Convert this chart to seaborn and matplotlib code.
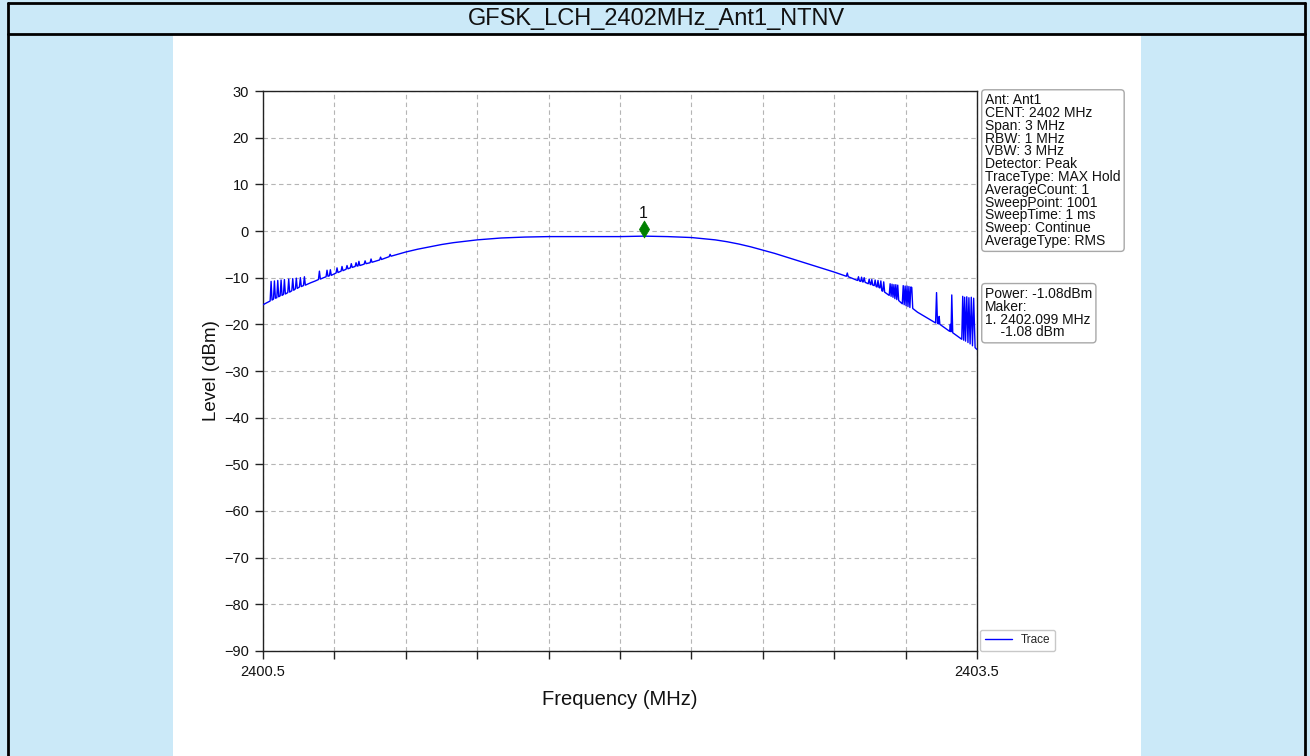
import numpy as np
import pandas as pd
import matplotlib
matplotlib.use("Agg")
import matplotlib.pyplot as plt
from matplotlib.patches import Rectangle
from matplotlib.lines import Line2D
from matplotlib.transforms import offset_copy
import seaborn as sns

# ---------------- data ----------------
title_text = "GFSK_LCH_2402MHz_Ant1_NTNV"

# left band-edge, dense spurs
left_freq = [2400.500, 2400.530, 2400.534, 2400.538, 2400.544, 2400.548, 2400.552, 2400.558,
             2400.562, 2400.566, 2400.572, 2400.576, 2400.580, 2400.586, 2400.590, 2400.594,
             2400.604, 2400.608, 2400.612, 2400.621, 2400.625, 2400.629, 2400.636, 2400.640,
             2400.644, 2400.653, 2400.657, 2400.661, 2400.670, 2400.674, 2400.678]
left_level = [-15.8, -15.0, -10.8, -14.8, -14.6, -10.7, -14.4, -14.3,
              -10.6, -14.1, -13.9, -10.5, -13.8, -13.6, -10.4, -13.5,
              -13.2, -10.3, -13.1, -12.8, -10.2, -12.7, -12.4, -10.1,
              -12.3, -12.0, -10.0, -11.9, -11.7, -9.8, -11.6]

# left slope, sparse spurs
slope_freq = [2400.700, 2400.720, 2400.733, 2400.737, 2400.741, 2400.765, 2400.769, 2400.773,
              2400.779, 2400.783, 2400.787, 2400.807, 2400.811, 2400.815, 2400.828, 2400.832,
              2400.836, 2400.849, 2400.853, 2400.857, 2400.867, 2400.871, 2400.875, 2400.887,
              2400.891, 2400.895, 2400.899, 2400.903, 2400.907, 2400.925, 2400.929, 2400.933,
              2400.950, 2400.954, 2400.958, 2400.990, 2400.994, 2400.998, 2401.030, 2401.034,
              2401.038, 2401.100, 2401.150]
slope_level = [-11.1, -10.7, -10.4, -8.6, -10.3, -9.8, -8.4, -9.7,
               -9.6, -8.3, -9.5, -9.0, -7.9, -8.9, -8.6, -7.6,
               -8.5, -8.2, -7.4, -8.1, -7.9, -7.0, -7.8, -7.6,
               -6.8, -7.5, -7.5, -6.5, -7.4, -7.1, -6.4, -7.0,
               -6.8, -6.0, -6.7, -6.2, -5.6, -6.1, -5.5, -5.0,
               -5.4, -4.5, -3.9]

# in-band top
top_freq = [2401.200, 2401.250, 2401.300, 2401.350, 2401.400, 2401.450, 2401.500, 2401.600,
            2401.700, 2401.800, 2401.900, 2402.000, 2402.100, 2402.200, 2402.300, 2402.400,
            2402.450, 2402.500, 2402.550, 2402.600, 2402.650, 2402.700, 2402.750, 2402.800,
            2402.850, 2402.900]
top_level = [-3.4, -2.9, -2.5, -2.2, -1.9, -1.7, -1.5, -1.3,
             -1.2, -1.2, -1.2, -1.2, -1.1, -1.2, -1.4, -1.9,
             -2.3, -2.8, -3.4, -4.1, -4.8, -5.6, -6.4, -7.2,
             -8.0, -8.8]

# right band-edge with spurs
right_freq = [2402.940, 2402.951, 2402.955, 2402.959, 2402.998, 2403.002, 2403.006, 2403.011,
              2403.015, 2403.019, 2403.022, 2403.026, 2403.030, 2403.043, 2403.047, 2403.051,
              2403.054, 2403.058, 2403.062, 2403.068, 2403.072, 2403.076, 2403.080, 2403.084,
              2403.088, 2403.092, 2403.096, 2403.100, 2403.104, 2403.108, 2403.112, 2403.131,
              2403.135, 2403.139, 2403.143, 2403.147, 2403.151, 2403.155, 2403.159, 2403.163,
              2403.167, 2403.171, 2403.186, 2403.190, 2403.194, 2403.198, 2403.202, 2403.206,
              2403.210, 2403.214, 2403.218, 2403.222, 2403.226, 2403.230, 2403.250, 2403.300,
              2403.326, 2403.330, 2403.334, 2403.338, 2403.341, 2403.344, 2403.385, 2403.388,
              2403.391, 2403.394, 2403.398, 2403.430, 2403.436, 2403.440, 2403.444, 2403.448,
              2403.452, 2403.457, 2403.462, 2403.466, 2403.471, 2403.476, 2403.481, 2403.486,
              2403.492, 2403.500]
right_level = [-9.5, -9.7, -9.0, -9.8, -10.6, -9.8, -10.7, -10.8,
               -9.9, -10.9, -10.9, -10.0, -11.0, -11.3, -10.3, -11.4,
               -11.5, -10.4, -11.6, -11.7, -10.5, -11.9, -12.0, -10.6,
               -12.1, -12.2, -10.7, -12.8, -12.9, -10.9, -13.1, -13.8,
               -11.3, -14.0, -11.4, -14.2, -11.5, -14.5, -11.5, -14.7,
               -11.6, -14.9, -15.6, -11.7, -15.8, -11.8, -16.0, -11.8,
               -16.2, -11.9, -16.4, -12.0, -12.1, -16.6, -17.4, -18.9,
               -19.7, -13.2, -19.8, -19.9, -18.3, -20.0, -21.5, -20.0,
               -21.6, -13.7, -21.8, -23.0, -23.2, -14.0, -23.4, -14.2,
               -23.6, -14.1, -23.9, -14.3, -24.2, -14.2, -24.6, -14.4,
               -25.0, -25.4]

marker_freq = [2402.099]
marker_level = [-1.08]
marker_labels = ["1"]

x_tick_values = [2400.5, 2400.8, 2401.1, 2401.4, 2401.7, 2402.0, 2402.3, 2402.6, 2402.9, 2403.2, 2403.5]
x_tick_labels = ["2400.5", "", "", "", "", "", "", "", "", "", "2403.5"]
y_tick_values = [30, 20, 10, 0, -10, -20, -30, -40, -50, -60, -70, -80, -90]

settings_lines = ["Ant: Ant1", "CENT: 2402 MHz", "Span: 3 MHz", "RBW: 1 MHz", "VBW: 3 MHz",
                  "Detector: Peak", "TraceType: MAX Hold", "AverageCount: 1", "SweepPoint: 1001",
                  "SweepTime: 1 ms", "Sweep: Continue", "AverageType: RMS"]
result_lines = ["Power: -1.08dBm", "Maker:", "1. 2402.099 MHz", "    -1.08 dBm"]

# ---------------- figure ----------------
sns.set_theme(style="ticks")
plt.rcParams["font.family"] = ["Liberation Sans", "DejaVu Sans"]

W, H = 1310, 756
fig = plt.figure(figsize=(W / 100, H / 100), dpi=100)
fig.patch.set_facecolor("#cbe9f8")

def px_rect(x0, y0, x1, y1, **kw):
    r = Rectangle((x0 / W, 1 - y1 / H), (x1 - x0) / W, (y1 - y0) / H,
                  transform=fig.transFigure, **kw)
    fig.add_artist(r)

# white central panel
px_rect(173, 35, 1141, 760, facecolor="white", edgecolor="none", zorder=0)
# frame lines
for (x0, y0, x1, y1) in [(8, 3, 1305, 3), (8, 34, 1305, 34), (8, 3, 8, 760), (1305, 3, 1305, 760)]:
    fig.add_artist(Line2D([x0 / W, x1 / W], [1 - y0 / H, 1 - y1 / H], transform=fig.transFigure,
                          color="black", lw=2, zorder=1))
fig.text(656 / W, 1 - 19 / H, title_text, ha="center", va="center", fontsize=17, color="#111111")

ax = fig.add_axes([263 / W, 1 - 651 / H, (977 - 263) / W, (651 - 91) / H])
ax.set_facecolor("white")

trace = pd.DataFrame({
    "Frequency (MHz)": left_freq + slope_freq + top_freq + right_freq,
    "Level (dBm)": left_level + slope_level + top_level + right_level,
})
sns.lineplot(data=trace, x="Frequency (MHz)", y="Level (dBm)", ax=ax, color="blue",
             lw=1.0, sort=False, estimator=None, label="Trace", zorder=3)
sns.scatterplot(x=marker_freq, y=marker_level, ax=ax, marker="d", s=75, color="green",
                edgecolor="green", linewidth=0.5, zorder=4, legend=False)
# marker symbol sits just above the trace, as in the analyser plot
ax.collections[-1].set_offset_transform(offset_copy(ax.transData, fig=fig, x=0, y=7, units="dots"))
for f, l, t in zip(marker_freq, marker_level, marker_labels):
    ax.annotate(t, (f, l), xytext=(0, 11), textcoords="offset points", ha="center",
                va="bottom", fontsize=11.5, color="#111111")

ax.set_xlim(2400.5, 2403.5)
ax.set_ylim(-90, 30)
ax.set_xticks(x_tick_values)
ax.set_xticklabels(x_tick_labels)
ax.set_yticks(y_tick_values)
ax.tick_params(axis="both", direction="out", length=6, width=1, labelsize=10.5,
               colors="#222222", labelcolor="#111111", pad=4)
ax.grid(True, color="#b5b5b5", linestyle=(0, (4, 3)), linewidth=0.8)
for s in ax.spines.values():
    s.set_color("#222222")
    s.set_linewidth(1.0)
    s.set_visible(True)
ax.set_xlabel("Frequency (MHz)", fontsize=14.5, labelpad=8, color="#111111")
ax.set_ylabel("Level (dBm)", fontsize=13.5, labelpad=3, color="#111111")

box = dict(boxstyle="round,pad=0.25", facecolor="white", edgecolor="#a8a8a8", linewidth=1)
ax.text(1.0115, 0.996, "\n".join(settings_lines), transform=ax.transAxes, ha="left", va="top",
        fontsize=10, linespacing=0.89, color="#111111", bbox=box)
ax.text(1.0115, 0.650, "\n".join(result_lines), transform=ax.transAxes, ha="left", va="top",
        fontsize=10, linespacing=0.89, color="#111111", bbox=box)

handles, labels = ax.get_legend_handles_labels()
leg = ax.legend(handles[:1], labels[:1], loc="lower left", bbox_to_anchor=(1.004, 0.0),
                borderaxespad=0, fontsize=8.5, frameon=True, fancybox=True,
                handlelength=2.3, borderpad=0.4, handletextpad=0.8)
leg.get_frame().set_edgecolor("#bbbbbb")
leg.get_frame().set_linewidth(1)

fig.savefig("out.png", dpi=100, facecolor=fig.get_facecolor())
